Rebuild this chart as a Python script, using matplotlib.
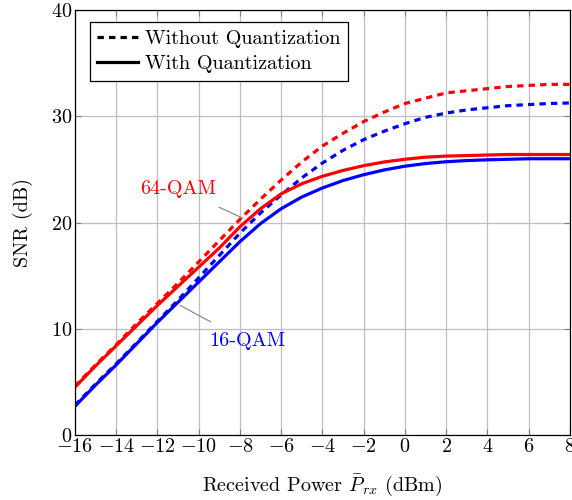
import matplotlib
matplotlib.use('Agg')
from matplotlib import pyplot as plt

plt.rcParams['font.family'] = 'serif'
plt.rcParams['font.serif'] = ['cmr10']
plt.rcParams['mathtext.fontset'] = 'cm'
plt.rcParams['axes.formatter.use_mathtext'] = True

# received power (dBm)
power = [-16, -15, -14, -13, -12, -11, -10, -9, -8, -7, -6, -5, -4,
         -3, -2, -1, 0, 1, 2, 3, 4, 5, 6, 7, 8]

# SNR (dB)
qam64_noq = [4.6, 6.6, 8.5, 10.5, 12.4, 14.3, 16.3, 18.3, 20.3, 22.2, 24.0, 25.7, 27.2,
             28.4, 29.5, 30.4, 31.2, 31.7, 32.2, 32.4, 32.6, 32.8, 32.9, 33.0, 33.0]
qam16_noq = [2.8, 4.8, 6.7, 8.7, 10.7, 12.7, 14.8, 16.9, 19.0, 20.9, 22.6, 24.2, 25.6,
             26.8, 27.8, 28.6, 29.3, 29.9, 30.3, 30.6, 30.8, 31.0, 31.1, 31.2, 31.25]
qam64_q = [4.5, 6.5, 8.4, 10.3, 12.2, 14.0, 15.8, 17.6, 19.6, 21.3, 22.7, 23.65, 24.35,
           24.9, 25.35, 25.7, 25.95, 26.15, 26.25, 26.3, 26.35, 26.4, 26.4, 26.4, 26.4]
qam16_q = [2.7, 4.7, 6.6, 8.6, 10.6, 12.5, 14.4, 16.3, 18.2, 19.9, 21.3, 22.4, 23.25,
           23.95, 24.5, 24.95, 25.3, 25.55, 25.72, 25.83, 25.9, 25.95, 26.0, 26.0, 26.0]

xticks = list(range(-16, 9, 2))
yticks = [0, 10, 20, 30, 40]

fs = 14.5

fig = plt.figure(figsize=(5.72, 5.0), dpi=100)
ax = fig.add_axes([0.131, 0.13, 0.8655, 0.85])

lw = 2.3
dash = (2.0, 1.6)
ax.plot(power, qam64_noq, color='red', lw=lw, dashes=dash)
ax.plot(power, qam16_noq, color='blue', lw=lw, dashes=dash)
ax.plot(power, qam64_q, color='red', lw=lw)
ax.plot(power, qam16_q, color='blue', lw=lw)

# legend entries
ax.plot([], [], color='black', lw=lw, dashes=dash, label='Without Quantization')
ax.plot([], [], color='black', lw=lw, label='With Quantization')
leg = ax.legend(loc='upper left', bbox_to_anchor=(0.03, 0.972), fontsize=fs,
                fancybox=False, framealpha=1, edgecolor='black',
                handlelength=2.0, handletextpad=0.35, borderpad=0.38,
                labelspacing=0.38, borderaxespad=0)
leg.get_frame().set_linewidth(0.9)

# annotations
ax.annotate('64-QAM', xy=(-7.85, 20.4), xytext=(-11.0, 23.2), color='red',
            fontsize=fs, ha='center', va='center',
            arrowprops=dict(arrowstyle='-', color='gray', lw=0.8, shrinkA=12, shrinkB=0))
ax.annotate('16-QAM', xy=(-10.9, 12.2), xytext=(-7.65, 8.8), color='blue',
            fontsize=fs, ha='center', va='center',
            arrowprops=dict(arrowstyle='-', color='gray', lw=0.8, shrinkA=12, shrinkB=0))

ax.set_xlim(-16, 8)
ax.set_ylim(0, 40)
ax.set_xticks(xticks)
ax.set_yticks(yticks)
ax.grid(True, color='#bfbfbf', lw=0.9)
ax.set_axisbelow(True)
ax.tick_params(direction='in', length=4, color='#808080', labelsize=fs,
               top=True, right=True, pad=2)
for s in ax.spines.values():
    s.set_linewidth(0.9)

ax.set_xlabel(r'Received Power $\bar{P}_{rx}$ (dBm)', fontsize=fs, labelpad=12)
ax.set_ylabel('SNR (dB)', fontsize=fs, labelpad=13)

fig.savefig('out.png', dpi=100)
